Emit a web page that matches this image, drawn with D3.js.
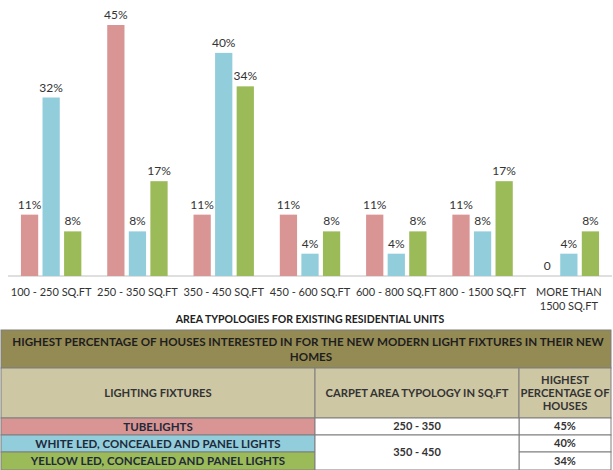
<!DOCTYPE html>
<html>
<head>
<meta charset="utf-8">
<script src="https://cdn.jsdelivr.net/npm/d3@7"></script>
<style>
  body { margin: 0; background: #fff; }
  svg { font-family: Lato, "Open Sans", sans-serif; }
</style>
</head>
<body>
<div id="chart"></div>
<script>
// chart data
var categories = ["100 - 250 SQ.FT", "250 - 350 SQ.FT", "350 - 450 SQ.FT", "450 - 600 SQ.FT",
                  "600  - 800 SQ.FT", "800 - 1500 SQ.FT", "MORE THAN|1500 SQ.FT"];
var seriesNames = ["TUBELIGHTS", "WHITE LED, CONCEALED AND PANEL LIGHTS", "YELLOW LED, CONCEALED AND PANEL LIGHTS"];
var tubelights = [11, 45, 11, 11, 11, 11, 0];
var whiteLed   = [32, 8, 40, 4, 4, 8, 4];
var yellowLed  = [8, 17, 34, 8, 8, 17, 8];
var seriesColors = ["#d99594", "#92cddc", "#9bbb59"];
var axisTitle = "AREA TYPOLOGIES FOR EXISTING RESIDENTIAL UNITS";

// table data
var tableTitle = ["HIGHEST PERCENTAGE OF HOUSES INTERESTED IN FOR THE NEW MODERN LIGHT FIXTURES IN THEIR NEW", "HOMES"];
var tableHeads = [["LIGHTING FIXTURES"], ["CARPET AREA TYPOLOGY IN SQ.FT"], ["HIGHEST", "PERCENTAGE OF", "HOUSES"]];
var tableTypology = ["250 - 350", "350 - 450"];
var tablePercent = ["45%", "40%", "34%"];

var width = 613, height = 470;
var svg = d3.select("#chart").append("svg")
    .attr("width", width)
    .attr("height", height);

var values = [tubelights, whiteLed, yellowLed];
var rows = categories.map(function(c, i) {
    return { cat: c, vals: values.map(function(s, k) { return { k: k, v: s[i] }; }) };
});

var x0 = d3.scaleBand().domain(categories).range([8, 612]).paddingInner(0.3).paddingOuter(0.15);
var x1 = d3.scaleBand().domain([0, 1, 2]).range([0, x0.bandwidth()]).paddingInner(0.2);
var y = d3.scaleLinear().domain([0, 45]).range([276, 25]);

// baseline
svg.append("line")
    .attr("x1", 8).attr("x2", 612)
    .attr("y1", y(0)).attr("y2", y(0))
    .style("stroke", "#bfbfbf")
    .style("stroke-width", 1);

var groups = svg.selectAll(".grp")
    .data(rows)
    .enter()
    .append("g")
    .attr("class", "grp")
    .attr("transform", function(d) { return "translate(" + x0(d.cat) + ",0)"; });

groups.selectAll("rect")
    .data(function(d) { return d.vals; })
    .enter()
    .append("rect")
    .attr("x", function(d) { return x1(d.k); })
    .attr("width", x1.bandwidth())
    .attr("y", function(d) { return y(d.v); })
    .attr("height", function(d) { return y(0) - y(d.v); })
    .style("fill", function(d) { return seriesColors[d.k]; });

groups.selectAll("text.val")
    .data(function(d) { return d.vals; })
    .enter()
    .append("text")
    .attr("class", "val")
    .attr("x", function(d) { return x1(d.k) + x1.bandwidth() / 2; })
    .attr("y", function(d) { return y(d.v) - 6; })
    .attr("text-anchor", "middle")
    .style("font-size", "12px")
    .style("fill", "#333")
    .text(function(d) { return d.v === 0 ? "0" : d.v + "%"; });

// category labels
svg.selectAll(".cat")
    .data(categories)
    .enter()
    .append("text")
    .attr("class", "cat")
    .attr("x", function(d) { return x0(d) + x0.bandwidth() / 2; })
    .attr("y", 296)
    .attr("text-anchor", "middle")
    .style("font-size", "11px")
    .style("fill", "#333")
    .each(function(d) {
        var parts = d.split("|");
        d3.select(this).selectAll("tspan")
            .data(parts)
            .enter()
            .append("tspan")
            .attr("x", x0(d) + x0.bandwidth() / 2)
            .attr("dy", function(p, i) { return i ? 14 : 0; })
            .text(function(p) { return p; });
    });

svg.append("text")
    .attr("x", 310)
    .attr("y", 323)
    .attr("text-anchor", "middle")
    .style("font-size", "10.5px")
    .style("font-weight", "bold")
    .style("fill", "#222")
    .text(axisTitle);

// ---- table ----
var tx = 1, tr = 611;
var colX = [tx, 315, 519, tr];
var rowY = [330, 368, 418, 435, 452, 470];
var border = "#7f7f7f";
var tbl = svg.append("g");

function cell(x1_, y1_, x2_, y2_, fill) {
    tbl.append("rect")
        .attr("x", x1_).attr("y", y1_)
        .attr("width", x2_ - x1_).attr("height", y2_ - y1_)
        .style("fill", fill)
        .style("stroke", border)
        .style("stroke-width", 1);
}
function label(cx, cy, lines, size, col) {
    var t = tbl.append("text")
        .attr("text-anchor", "middle")
        .style("font-size", size + "px")
        .style("font-weight", "bold")
        .style("fill", col);
    lines.forEach(function(l, i) {
        t.append("tspan")
            .attr("x", cx)
            .attr("y", cy + (i - (lines.length - 1) / 2) * 13 + size * 0.35)
            .text(l);
    });
}

cell(tx, rowY[0], tr, rowY[1], "#948a54");
label(308, 345 - 3.5, [tableTitle[0]], 11.6, "#1e1e1e");
label(311, 360 - 3, [tableTitle[1]], 11.6, "#1e1e1e");

for (var c = 0; c < 3; c++) {
    cell(colX[c], rowY[1], colX[c + 1], rowY[2], "#cec7a4");
    label((colX[c] + colX[c + 1]) / 2, (rowY[1] + rowY[2]) / 2, tableHeads[c], 11.2, "#333");
}

for (var r = 0; r < 3; r++) {
    cell(colX[0], rowY[r + 2], colX[1], rowY[r + 3], seriesColors[r]);
    label((colX[0] + colX[1]) / 2, (rowY[r + 2] + rowY[r + 3]) / 2, [seriesNames[r]], 11.5, "#1f2a3a");
    cell(colX[2], rowY[r + 2], colX[3], rowY[r + 3], "#fff");
    label((colX[2] + colX[3]) / 2, (rowY[r + 2] + rowY[r + 3]) / 2, [tablePercent[r]], 11, "#333");
}
cell(colX[1], rowY[2], colX[2], rowY[3], "#fff");
label((colX[1] + colX[2]) / 2, (rowY[2] + rowY[3]) / 2, [tableTypology[0]], 11, "#333");
cell(colX[1], rowY[3], colX[2], rowY[5], "#fff");
label((colX[1] + colX[2]) / 2, (rowY[3] + rowY[5]) / 2, [tableTypology[1]], 11, "#333");
</script>
</body>
</html>
